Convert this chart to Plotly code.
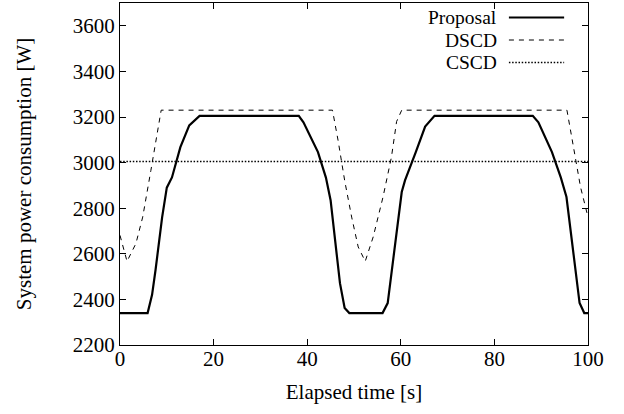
import plotly.graph_objects as go

# ---- data ----
proposal_t = [0, 5.9, 6.85, 7.6, 9.0, 10.0, 11.1, 12.9, 14.8, 17.0, 38.2, 39.2, 42.3, 44.0, 45.0, 47.0, 48.0, 49.0,
              56.1, 57.2, 60.2, 60.9, 63.2, 65.2, 67.2, 88.2, 89.4, 92.3, 94.2, 95.4, 98.2, 99.2, 100]
proposal_w = [2340, 2340, 2420, 2530, 2760, 2890, 2935, 3068, 3163, 3205, 3205, 3177, 3046, 2934, 2835, 2471, 2362, 2340,
              2340, 2384, 2871, 2922, 3046, 3158, 3205, 3205, 3177, 3046, 2934, 2849, 2384, 2340, 2340]

dscd_t = [0, 1.5, 3.4, 4.85, 6.6, 7.7, 8.8, 45.4, 46.6, 48.0, 49.5, 50.9, 52.4, 54.1, 56.2, 58.0, 59.1, 60.2,
          95.5, 96.9, 98.4, 100]
dscd_w = [2681, 2567, 2645, 2761, 2966, 3097, 3230, 3230, 3097, 2922, 2761, 2630, 2567, 2674, 2849, 3024, 3180, 3230,
          3230, 3068, 2893, 2761]

cscd_t = [0, 100]
cscd_w = [3005, 3005]

x_ticks = [0, 20, 40, 60, 80, 100]
y_ticks = [2200, 2400, 2600, 2800, 3000, 3200, 3400, 3600]

legend_names = ["Proposal", "DSCD", "CSCD"]
legend_styles = [dict(width=2.2, dash="solid"), dict(width=1, dash="5px,5px"), dict(width=1.6, dash="1.5px,1.7px")]

FONT = "'Liberation Serif', 'DejaVu Serif', serif"
FS = 21
LEG_FS = 19.5

fig = go.Figure()
fig.add_trace(go.Scatter(x=proposal_t, y=proposal_w, mode="lines", name=legend_names[0],
                         line=dict(color="black", **legend_styles[0])))
fig.add_trace(go.Scatter(x=dscd_t, y=dscd_w, mode="lines", name=legend_names[1],
                         line=dict(color="black", **legend_styles[1])))
fig.add_trace(go.Scatter(x=cscd_t, y=cscd_w, mode="lines", name=legend_names[2],
                         line=dict(color="black", **legend_styles[2])))

# manual gnuplot-style legend (text left of sample)
leg_y = [0.9576, 0.8918, 0.826]
for name, st, yy in zip(legend_names, legend_styles, leg_y):
    fig.add_annotation(xref="paper", yref="paper", x=0.808, y=yy, text=name, showarrow=False,
                       xanchor="right", yanchor="middle", borderpad=0,
                       font=dict(family=FONT, size=LEG_FS, color="black"))
    fig.add_shape(type="line", xref="paper", yref="paper", x0=0.831, x1=0.949, y0=yy, y1=yy,
                  line=dict(color="black", **st))

axis_common = dict(showline=True, linecolor="black", linewidth=1, mirror="ticks", ticks="inside",
                   ticklen=6, tickcolor="black", tickwidth=1, showgrid=False, zeroline=False,
                   tickfont=dict(family=FONT, size=FS, color="black"))

fig.update_xaxes(range=[0, 100], tickvals=x_ticks, ticktext=[str(v) for v in x_ticks],
                 title=dict(text="Elapsed time [s]", font=dict(family=FONT, size=FS, color="black"), standoff=14),
                 ticklabelstandoff=-5,
                 **axis_common)
fig.update_yaxes(range=[2200, 3700], tickvals=y_ticks, ticktext=[str(v) for v in y_ticks],
                 title=dict(text="System power consumption [W]", font=dict(family=FONT, size=FS, color="black"),
                            standoff=35),
                 ticklabelstandoff=0,
                 **axis_common)

fig.update_layout(width=624, height=414, margin=dict(l=120, r=36, t=3, b=69, autoexpand=False),
                  plot_bgcolor="white", paper_bgcolor="white", showlegend=False,
                  font=dict(family=FONT, size=FS, color="black"))

fig.write_html("out.html", config={"displayModeBar": False},
               post_script="document.body.style.margin='0';document.body.style.overflow='hidden';")
